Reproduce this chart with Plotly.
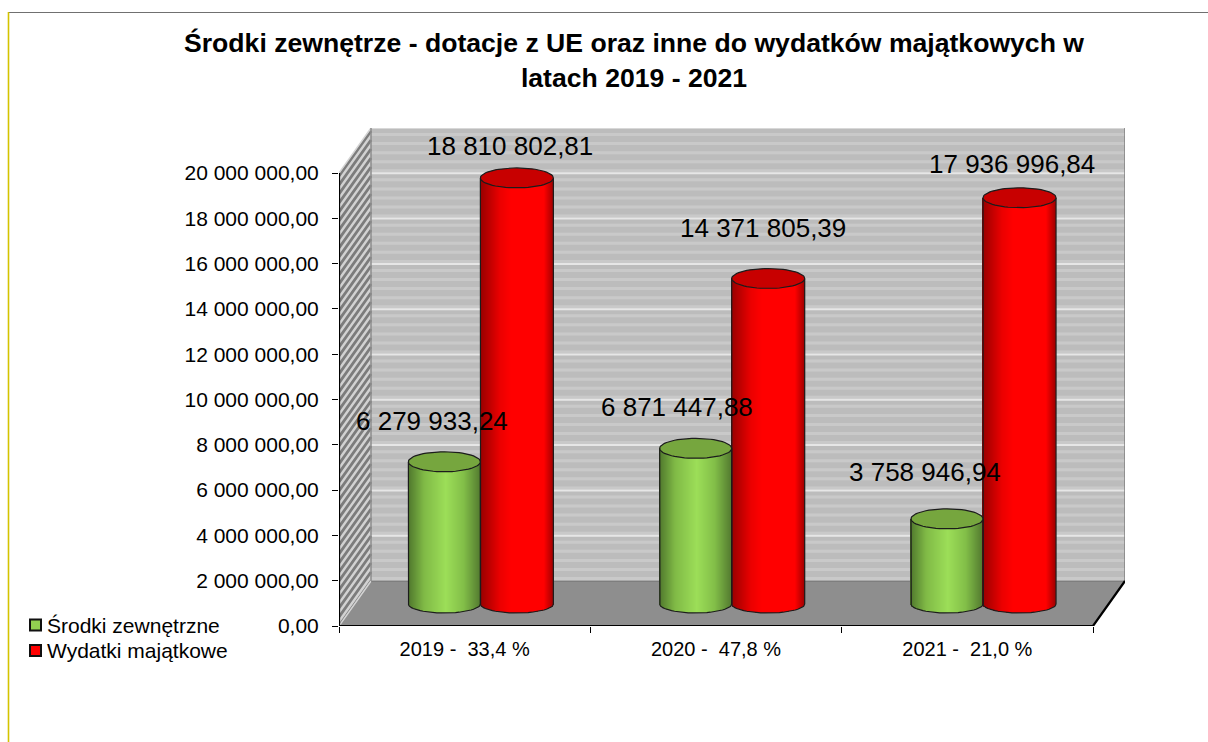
import math
import plotly.graph_objects as go

TITLE = "Środki zewnętrze - dotacje z UE oraz inne do wydatków majątkowych w<br>latach 2019 - 2021"
CATEGORIES = ["2019 - \u00a033,4 %", "2020 - \u00a047,8 %", "2021 - \u00a021,0 %"]
SRODKI = [6279933.24, 6871447.88, 3758946.94]
WYDATKI = [18810802.81, 14371805.39, 17936996.84]
Y_TICKS = [0, 2e6, 4e6, 6e6, 8e6, 1e7, 1.2e7, 1.4e7, 1.6e7, 1.8e7, 2e7]
SERIES_NAMES = ["Środki zewnętrzne", "Wydatki majątkowe"]

FONT = "Liberation Sans"
W, H = 1208, 742
L, R, T, B = 339, 1125, 128, 626        # plot box in page pixels
CAT_PX = (1093 - 339) / 3
VAL_PX = (626 - 173) / 2e7
DX, DY = 32 / CAT_PX, 45 / VAL_PX       # full depth of the 3D box
XMIN, XMAX = -0.5, -0.5 + (R - L) / CAT_PX
YMAX = (B - T) / VAL_PX
px = 1 / CAT_PX
py = 1 / VAL_PX
BASE = 22 * py                           # cylinders stand mid-depth


def fmt(v, dec=2):
    s = f"{v:,.{dec}f}"
    return s.replace(",", " ").replace(".", ",")


def pap_x(p):
    return (p - L) / (R - L)


def pap_y(p):
    return (B - p) / (B - T)


def lerp(c1, c2, t):
    return "rgb(" + ",".join(str(round(a + (b - a) * t)) for a, b in zip(c1, c2)) + ")"


def shade(u, stops):
    for (u0, c0), (u1, c1) in zip(stops, stops[1:]):
        if u <= u1:
            return lerp(c0, c1, (u - u0) / (u1 - u0))
    return lerp(stops[-1][1], stops[-1][1], 0)


GREEN_STOPS = [(-1, (78, 118, 44)), (-.55, (128, 186, 70)), (.05, (156, 222, 88)), (.55, (130, 190, 72)), (1, (84, 124, 48))]
RED_STOPS = [(-1, (150, 0, 0)), (-.45, (235, 0, 0)), (-.15, (255, 0, 0)), (.75, (255, 0, 0)), (1, (165, 0, 0))]
HALF_W = [36.0, 36.5]
SIDE = [-36.0, 36.5]
TOP_COL = ["#76a63e", "#c80000"]
B_TOP, B_BOT = 10, 9
OUTLINE = "#1c1c1c"

fig = go.Figure()

# pseudo-cylinder bodies, built as one-pixel bars so the shading can vary
for s, vals in enumerate([SRODKI, WYDATKI]):
    xs, ys, bases, cols = [], [], [], []
    for c, v in enumerate(vals):
        cx = c + 15.7 * px + SIDE[s] * px
        n = int(2 * HALF_W[s])
        for i in range(n):
            u = -1 + (2 * i + 1) / n
            arc = B_BOT * py * math.sqrt(max(0, 1 - u * u))
            xs.append(cx + u * HALF_W[s] * px)
            bases.append(BASE - arc)
            ys.append(v + arc)
            cols.append(shade(u, GREEN_STOPS if s == 0 else RED_STOPS))
    fig.add_trace(go.Bar(x=xs, y=ys, base=bases, width=1.6 * px, name=SERIES_NAMES[s],
                         marker=dict(color=cols, line=dict(width=0)), showlegend=False, hoverinfo="skip"))

# outlines and top faces of the cylinders
angles = list(range(0, 361, 6))
for s, vals in enumerate([SRODKI, WYDATKI]):
    for c, v in enumerate(vals):
        cx = c + 15.7 * px + SIDE[s] * px
        rx = HALF_W[s] * px
        top = v + BASE
        body_x = [cx - rx, cx - rx] + [cx + rx * math.cos(math.radians(180 + a)) for a in range(0, 181, 6)] + [cx + rx, cx + rx]
        body_y = [top, BASE] + [BASE + B_BOT * py * math.sin(math.radians(180 + a)) for a in range(0, 181, 6)] + [BASE, top]
        fig.add_trace(go.Scatter(x=body_x, y=body_y, mode="lines", line=dict(color=OUTLINE, width=1.2),
                                 showlegend=False, hoverinfo="skip"))
        fig.add_trace(go.Scatter(x=[cx + rx * math.cos(math.radians(a)) for a in angles],
                                 y=[top + B_TOP * py * math.sin(math.radians(a)) for a in angles],
                                 mode="lines", fill="toself", fillcolor=TOP_COL[s],
                                 line=dict(color=OUTLINE, width=1.2), showlegend=False, hoverinfo="skip"))

# the box: back wall stripes, side wall hatching, floor
x0, x1 = XMIN, XMIN + 3
shapes = []


def poly(pts, **kw):
    d = "M " + " L ".join(f"{a},{b}" for a, b in pts) + " Z"
    shapes.append(dict(type="path", path=d, xref="x", yref="y", layer="below", **kw))


def segs(seg_list, color, width):
    d = " ".join(f"M {a},{b} L {c},{e}" for (a, b), (c, e) in seg_list)
    shapes.append(dict(type="path", path=d, xref="x", yref="y", layer="below", line=dict(color=color, width=width)))


poly([(x0 + DX, DY), (x1 + DX, DY), (x1 + DX, DY + 2e7), (x0 + DX, DY + 2e7)], fillcolor="#bcbcbc", line=dict(width=0))
stripes = []
for k in range(0, 51):
    v = k * 0.4e6
    stripes.append(((x0 + DX, DY + v + 2.5 * py), (x1 + DX, DY + v + 2.5 * py)))
segs(stripes, "#c9c9c9", 3)
segs([((x0 + DX, DY + t), (x1 + DX, DY + t)) for t in Y_TICKS], "#e6e6e6", 2)

poly([(x0, 0), (x0 + DX, DY), (x0 + DX, DY + 2e7), (x0, 2e7)], fillcolor="#d2d2d2", line=dict(width=0))
hatch = []
for k in range(0, 51):
    v = k * 9 * py
    hatch.append(((x0, v), (x0 + DX, v + DY)))
segs(hatch, "#7c7c7c", 2.8)
poly([(x0, 0), (x1, 0), (x1 + DX, DY), (x0 + DX, DY)], fillcolor="#8e8e8e", line=dict(width=0))
segs([((x0, 0), (x0 + DX, DY)), ((x0, 2e7), (x0 + DX, DY + 2e7)), ((x0 + DX, DY + 2e7), (x1 + DX, DY + 2e7))], "#d4d4d4", 1.5)
segs([((x0 + DX, DY), (x1 + DX, DY))], "#6e6e6e", 1)
segs([((x0 + DX, DY), (x0 + DX, DY + 2e7))], "#8c8c8c", 1.5)
segs([((x1 + DX, DY), (x1 + DX, DY + 2e7))], "#808080", 1.5)
segs([((x0, 0), (x1, 0)), ((x1, 0), (x1 + DX, DY))], "#000000", 2.2)
segs([((x0, 0), (x0, 2e7))], "#000000", 2.2)

# outer frame
shapes.append(dict(type="line", xref="paper", yref="paper", x0=pap_x(8), x1=pap_x(W), y0=pap_y(12.5), y1=pap_y(12.5),
                   line=dict(color="#707070", width=1)))
shapes.append(dict(type="line", xref="paper", yref="paper", x0=pap_x(8.5), x1=pap_x(8.5), y0=pap_y(12), y1=pap_y(H),
                   line=dict(color="#d4c400", width=1.6)))

# key
annotations = []
for i, (name, col, cy) in enumerate(zip(SERIES_NAMES, ["#92d050", "#ff0000"], [625, 650.5])):
    shapes.append(dict(type="rect", xref="paper", yref="paper", x0=pap_x(30), x1=pap_x(41),
                       y0=pap_y(cy - 5.5), y1=pap_y(cy + 5.5), fillcolor=col, line=dict(color="#101010", width=2)))
    annotations.append(dict(text=name, xref="paper", yref="paper", x=pap_x(45), y=pap_y(cy), xanchor="left", yanchor="middle",
                            showarrow=False, font=dict(family=FONT, size=21, color="#000000")))

# value labels, nudged by hand as in the reference
NUDGE_G = [(-12, 41), (-19, 41), (-22, 47)]
NUDGE_R = [(-7, 32), (-5, 50), (-8, 34)]
for s, (vals, nudges) in enumerate(zip([SRODKI, WYDATKI], [NUDGE_G, NUDGE_R])):
    for c, (v, (nx, ny)) in enumerate(zip(vals, nudges)):
        annotations.append(dict(text=fmt(v), x=c + 15.7 * px + SIDE[s] * px, y=v + BASE, xref="x", yref="y",
                                xshift=nx, yshift=ny, xanchor="center", yanchor="middle", showarrow=False,
                                font=dict(family=FONT, size=26, color="#000000")))

fig.update_layout(
    width=W, height=H, autosize=False,
    margin=dict(l=L, r=W - R, t=T, b=H - B, pad=0),
    paper_bgcolor="#ffffff", plot_bgcolor="rgba(0,0,0,0)",
    barmode="overlay", bargap=0, showlegend=False,
    title=dict(text=TITLE, x=634 / W, xanchor="center", y=1 - 52 / H, yanchor="middle",
               font=dict(family=FONT, size=26.6, color="#000000", weight="bold")),
    xaxis=dict(range=[XMIN, XMAX], tickvals=[0, 1, 2], ticktext=CATEGORIES, ticks="", showgrid=False, zeroline=False,
               showline=False, tickfont=dict(family=FONT, size=20, color="#000000"), ticklabelstandoff=9,
               minor=dict(tick0=-0.5, dtick=1, ticks="outside", ticklen=6, tickcolor="#000000", tickwidth=1, showgrid=False)),
    yaxis=dict(range=[0, YMAX], tickvals=Y_TICKS, ticktext=[fmt(t) for t in Y_TICKS], ticks="outside", ticklen=6,
               tickcolor="#000000", tickwidth=1, showgrid=False, zeroline=False, showline=False, ticklabelstandoff=9,
               tickfont=dict(family=FONT, size=21, color="#000000")),
    shapes=shapes, annotations=annotations,
)

fig.write_html("out.html", config={"displayModeBar": False},
               post_script="document.body.style.margin='0';document.body.style.overflow='hidden';")
